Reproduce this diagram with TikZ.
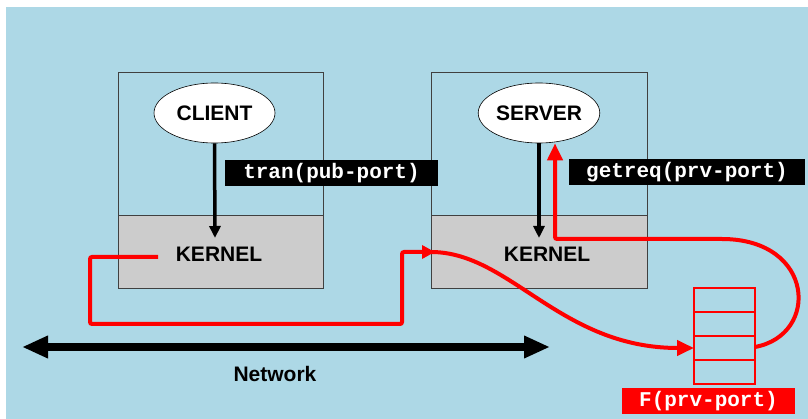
\documentclass[tikz,border=0pt]{standalone}
\usepackage{fontspec}
\setmainfont{Liberation Sans}
\setmonofont{Liberation Mono}
\usetikzlibrary{shapes.geometric,arrows.meta,calc}
\definecolor{skyblue}{HTML}{ADD8E6}
\definecolor{kernelgray}{HTML}{CCCCCC}

\begin{document}
\begin{tikzpicture}[
  x=1pt, y=-1pt,
  proc/.style={ellipse, draw=black, line width=0.6pt, fill=white,
    minimum width=121pt, minimum height=60pt, inner sep=0pt,
    font=\fontsize{21}{24}\selectfont\bfseries},
  host/.style={draw=black!75, line width=0.8pt},
  lbl/.style={font=\fontsize{21}{24}\selectfont\bfseries},
  call/.style={fill=black, text=white, inner sep=0pt, minimum height=26pt,
    font=\fontsize{21}{24}\selectfont\ttfamily\bfseries},
  slot/.style={draw=red, line width=1.5pt},
  msg/.style={draw=red, line width=4pt, rounded corners=2pt},
  sys/.style={draw=black, line width=3.5pt, -{Triangle[length=12pt,width=11pt]}}
]
\useasboundingbox (0,0) rectangle (808,419);
\fill[skyblue] (6,7) rectangle (808,419);

% Hosts with their kernels
\draw[host, fill=kernelgray] (118,215) rectangle (323,288);
\draw[host] (118,72) rectangle (323,288);
\draw[host, fill=kernelgray] (431,215) rectangle (647,288);
\draw[host] (431,72) rectangle (647,288);

\node[proc] (client) at (214.5,113) {CLIENT};
\node[proc] (server) at (539,113) {SERVER};
\node[lbl] (ckern) at (219,254) {KERNEL};
\node[lbl] (skern) at (547,254) {KERNEL};

% System calls
\node[call, minimum width=213pt] (tran) at (331.5,173) {tran(pub-port)};
\node[call, minimum width=236pt] (getreq) at (687,172) {getreq(prv-port)};

\coordinate (ctrap) at (215,238);
\coordinate (strap) at (539,238);
\draw[sys] (client.south) -- (ctrap);
\draw[sys] (server.south) -- (strap);

% Port queue
\node[draw=red, line width=1.5pt, minimum width=61pt, minimum height=96pt,
  inner sep=0pt] (queue) at (724.5,336) {};
\foreach \y in {312,336,360}
  \draw[slot] (694,\y) -- (755,\y);
\node[call, fill=red, minimum width=173pt] (fport) at (708.5,401) {F(prv-port)};

% Network
\coordinate (netL) at (22,347);
\coordinate (netR) at (550,347);
\draw[line width=8pt, {Triangle[length=26pt,width=21pt]}-{Triangle[length=26pt,width=21pt]}]
  (netL) -- (netR);
\node[lbl] (net) at (275,374) {Network};

% Message path
\coordinate (send) at (158,257);
\coordinate (sin) at (435,252);
\coordinate (qin) at (694,348);
\coordinate (qout) at (755,347);
\draw[msg, -{Triangle[length=13pt,width=13pt]}]
  (send) -- (90,257) -- (90,324) -- (402,324) -- (402,252) -- (sin);
\draw[msg, -{Triangle[length=17pt,width=15pt]}]
  (431,252) .. controls (510,252) and (560,348) .. (qin);
\draw[msg, -{Triangle[length=17pt,width=15pt]}]
  (qout) .. controls (820,335) and (815,239) .. (720,239) -- (555,239)
  -- (server.south -| 555,0);

\end{tikzpicture}
\end{document}
